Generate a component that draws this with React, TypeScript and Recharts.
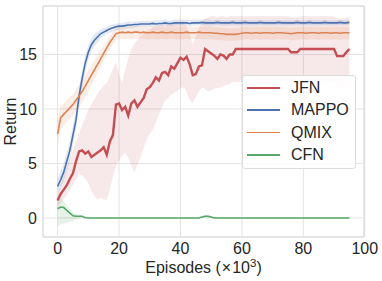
import {
  ComposedChart,
  Line,
  Area,
  XAxis,
  YAxis,
  CartesianGrid,
  ReferenceArea,
  Legend,
  Label,
} from 'recharts';

// episodes in thousands
const episodes = [
  0, 1, 2, 3, 4, 5, 6, 7, 8, 9, 10, 11, 12, 13, 14, 15, 16, 17, 18, 19,
  20, 21, 22, 23, 24, 25, 26, 27, 28, 29, 30, 31, 32, 33, 34, 35, 36, 37, 38, 39,
  40, 41, 42, 43, 44, 45, 46, 47, 48, 49, 50, 51, 52, 53, 54, 55, 56, 57, 58, 59,
  60, 61, 62, 63, 64, 65, 66, 67, 68, 69, 70, 71, 72, 73, 74, 75, 76, 77, 78, 79,
  80, 81, 82, 83, 84, 85, 86, 87, 88, 89, 90, 91, 92, 93, 94, 95,
];

const jfnMean = [
  1.6, 2.2, 2.6, 3.0, 3.6, 4.1, 5.2, 6.1, 6.2, 5.9,
  6.1, 5.6, 5.8, 6.0, 6.2, 6.5, 5.8, 7.0, 7.6, 10.4,
  10.5, 9.9, 10.2, 9.4, 10.5, 10.8, 10.2, 10.6, 11.0, 11.8,
  12.0, 12.4, 12.9, 12.6, 13.3, 13.4, 13.1, 13.9, 13.7, 14.2,
  14.7, 14.5, 14.8, 14.1, 13.1, 13.2, 13.9, 14.0, 15.5, 15.3,
  15.1, 14.9, 14.6, 15.0, 14.9, 14.6, 15.0, 15.0, 15.5, 15.5,
  15.5, 15.5, 15.5, 15.5, 15.5, 15.5, 15.5, 15.5, 15.5, 15.5,
  15.5, 15.5, 15.5, 15.5, 15.5, 15.5, 15.2, 15.2, 15.2, 15.5,
  15.5, 15.5, 15.5, 15.5, 15.5, 15.5, 15.5, 15.5, 15.5, 15.5,
  15.5, 14.85, 14.85, 14.85, 15.2, 15.5,
];
const jfnHigh = [
  2.2, 3.0, 3.8, 4.6, 5.4, 6.2, 7.0, 7.8, 8.5, 9.2,
  9.9, 10.4, 10.9, 11.4, 11.8, 12.1, 12.4, 13.0, 13.7, 14.3,
  13.2, 12.4, 13.6, 14.6, 15.5, 16.0, 16.3, 16.6, 16.9, 17.2,
  17.3, 17.5, 17.6, 17.7, 17.7, 17.8, 17.8, 17.9, 17.9, 18.0,
  18.0, 18.0, 17.6, 16.8, 15.9, 16.6, 17.4, 18.0, 18.3, 18.4,
  18.5, 18.5, 18.4, 18.5, 18.5, 18.4, 18.5, 18.5, 18.5, 18.5,
  18.5, 18.5, 18.5, 18.5, 18.5, 18.5, 18.5, 18.5, 18.5, 18.5,
  18.5, 18.5, 18.5, 18.5, 18.5, 18.5, 18.4, 18.4, 18.4, 18.5,
  18.5, 18.5, 18.5, 18.5, 18.5, 18.5, 18.5, 18.5, 18.5, 18.5,
  18.5, 18.3, 18.3, 18.3, 18.4, 18.5,
];
const jfnLow = [
  1.0, 1.4, 1.7, 2.1, 2.6, 3.0, 3.5, 4.0, 3.9, 3.6,
  3.2, 2.5, 2.0, 1.7, 1.9, 1.7, 1.65, 2.6, 3.8, 4.8,
  5.3, 5.7, 6.0, 5.5, 4.8, 4.2, 4.9, 5.6, 6.4, 7.2,
  7.7, 8.1, 8.8, 9.5, 10.2, 10.8, 11.0, 11.3, 11.5, 11.7,
  11.9, 12.0, 11.6, 10.8, 10.5, 11.1, 11.6, 12.0, 11.8, 11.6,
  11.7, 11.9, 11.9, 12.0, 12.1, 12.2, 12.3, 12.5, 12.5, 12.5,
  12.5, 12.5, 12.5, 12.5, 12.5, 12.5, 12.5, 12.5, 12.5, 12.5,
  12.5, 12.5, 12.5, 12.5, 12.5, 12.5, 12.3, 12.3, 12.3, 12.5,
  12.5, 12.5, 12.5, 12.5, 12.5, 12.5, 12.5, 12.5, 12.5, 12.5,
  12.5, 12.0, 12.0, 12.0, 12.3, 12.5,
];

const mappoMean = [
  2.9, 3.5, 4.2, 5.2, 6.2, 7.6, 9.0, 11.2, 12.8, 14.2,
  15.2, 15.9, 16.3, 16.6, 16.9, 17.05, 17.2, 17.35, 17.45, 17.55,
  17.6, 17.6, 17.65, 17.7, 17.7, 17.75, 17.75, 17.8, 17.8, 17.8,
  17.8, 17.85, 17.8, 17.85, 17.85, 17.9, 17.85, 17.85, 17.9, 17.9,
  17.9, 17.9, 17.9, 17.85, 17.9, 17.9, 17.9, 17.95, 17.9, 17.9,
  17.9, 17.9, 17.95, 17.9, 17.9, 17.9, 17.9, 17.95, 17.9, 17.9,
  17.9, 17.95, 17.9, 17.9, 17.9, 17.9, 17.95, 17.9, 17.9, 17.9,
  17.9, 17.9, 17.95, 17.9, 17.9, 17.9, 17.9, 17.9, 17.95, 17.9,
  17.9, 17.9, 17.95, 17.9, 17.9, 17.9, 17.9, 17.95, 17.9, 17.9,
  17.9, 17.9, 17.95, 17.9, 17.9, 17.95,
];
const mappoHigh = [
  3.6, 4.3, 5.0, 6.0, 7.1, 8.5, 9.9, 12.0, 13.6, 14.9,
  15.9, 16.5, 16.9, 17.1, 17.3, 17.45, 17.55, 17.7, 17.8, 17.85,
  17.9, 17.9, 17.95, 18.0, 18.0, 18.05, 18.05, 18.1, 18.1, 18.1,
  18.1, 18.15, 18.1, 18.15, 18.15, 18.2, 18.15, 18.15, 18.2, 18.2,
  18.2, 18.2, 18.2, 18.15, 18.2, 18.2, 18.2, 18.2, 18.2, 18.2,
  18.15, 18.15, 18.2, 18.15, 18.15, 18.15, 18.15, 18.2, 18.15, 18.15,
  18.15, 18.2, 18.15, 18.15, 18.15, 18.15, 18.2, 18.15, 18.15, 18.15,
  18.15, 18.15, 18.2, 18.15, 18.15, 18.15, 18.15, 18.15, 18.2, 18.15,
  18.15, 18.15, 18.2, 18.15, 18.15, 18.15, 18.15, 18.2, 18.15, 18.15,
  18.15, 18.15, 18.2, 18.15, 18.15, 18.2,
];
const mappoLow = [
  2.2, 2.7, 3.4, 4.3, 5.3, 6.7, 8.1, 10.3, 11.9, 13.4,
  14.5, 15.3, 15.7, 16.1, 16.5, 16.7, 16.9, 17.0, 17.1, 17.25,
  17.3, 17.3, 17.35, 17.4, 17.4, 17.45, 17.5, 17.5, 17.55, 17.55,
  17.55, 17.6, 17.55, 17.6, 17.6, 17.65, 17.6, 17.6, 17.65, 17.65,
  17.65, 17.65, 17.65, 17.6, 17.65, 17.65, 17.65, 17.7, 17.65, 17.65,
  17.65, 17.65, 17.7, 17.65, 17.65, 17.65, 17.65, 17.7, 17.65, 17.65,
  17.65, 17.7, 17.65, 17.65, 17.65, 17.65, 17.7, 17.65, 17.65, 17.65,
  17.65, 17.65, 17.7, 17.65, 17.65, 17.65, 17.65, 17.65, 17.7, 17.65,
  17.65, 17.65, 17.7, 17.65, 17.65, 17.65, 17.65, 17.7, 17.65, 17.65,
  17.65, 17.65, 17.7, 17.65, 17.65, 17.7,
];

const qmixMean = [
  7.7, 9.2, 9.5, 9.8, 10.1, 10.4, 10.8, 11.2, 11.6, 12.1,
  12.6, 13.1, 13.6, 14.1, 14.6, 15.1, 15.6, 16.1, 16.5, 16.9,
  17.0, 17.05, 17.0, 17.05, 17.0, 17.05, 17.05, 17.0, 17.05, 17.0,
  17.0, 17.05, 17.0, 17.0, 17.05, 17.0, 17.0, 17.05, 17.0, 17.0,
  17.0, 17.0, 17.05, 17.0, 17.0, 17.0, 17.05, 17.0, 17.0, 17.0,
  17.0, 16.95, 16.95, 16.9, 16.9, 16.85, 16.85, 16.85, 16.85, 16.9,
  16.95, 17.0, 17.0, 16.95, 17.0, 17.0, 16.95, 17.0, 17.0, 17.0,
  16.95, 17.0, 17.0, 17.0, 16.95, 16.95, 16.9, 16.95, 17.0, 17.0,
  17.0, 16.95, 17.0, 17.0, 17.0, 16.95, 17.0, 17.0, 17.0, 16.95,
  17.0, 17.0, 16.95, 17.0, 17.0, 17.0,
];
const qmixHigh = [
  9.0, 10.3, 10.5, 10.8, 11.1, 11.4, 11.8, 12.2, 12.6, 13.1,
  13.6, 14.0, 14.5, 14.9, 15.4, 15.8, 16.2, 16.7, 17.1, 17.5,
  17.6, 17.6, 17.55, 17.6, 17.55, 17.6, 17.6, 17.55, 17.6, 17.55,
  17.55, 17.6, 17.55, 17.55, 17.6, 17.55, 17.55, 17.6, 17.55, 17.55,
  17.55, 17.55, 17.6, 17.55, 17.55, 17.55, 17.6, 17.55, 17.55, 17.55,
  17.55, 17.5, 17.5, 17.45, 17.45, 17.4, 17.4, 17.4, 17.4, 17.45,
  17.5, 17.55, 17.55, 17.5, 17.55, 17.55, 17.5, 17.55, 17.55, 17.55,
  17.5, 17.55, 17.55, 17.55, 17.5, 17.5, 17.45, 17.5, 17.55, 17.55,
  17.55, 17.5, 17.55, 17.55, 17.55, 17.5, 17.55, 17.55, 17.55, 17.5,
  17.55, 17.55, 17.5, 17.55, 17.55, 17.55,
];
const qmixLow = [
  6.6, 8.1, 8.5, 8.8, 9.1, 9.4, 9.8, 10.2, 10.6, 11.1,
  11.6, 12.2, 12.7, 13.3, 13.8, 14.4, 15.0, 15.5, 15.9, 16.3,
  16.4, 16.45, 16.4, 16.45, 16.4, 16.45, 16.45, 16.4, 16.45, 16.4,
  16.4, 16.45, 16.4, 16.4, 16.45, 16.4, 16.4, 16.45, 16.4, 16.4,
  16.4, 16.4, 16.45, 16.4, 16.4, 16.4, 16.45, 16.4, 16.4, 16.4,
  16.4, 16.35, 16.35, 16.3, 16.3, 16.25, 16.25, 16.25, 16.25, 16.3,
  16.35, 16.4, 16.4, 16.35, 16.4, 16.4, 16.35, 16.4, 16.4, 16.4,
  16.35, 16.4, 16.4, 16.4, 16.35, 16.35, 16.3, 16.35, 16.4, 16.4,
  16.4, 16.35, 16.4, 16.4, 16.4, 16.35, 16.4, 16.4, 16.4, 16.35,
  16.4, 16.4, 16.35, 16.4, 16.4, 16.4,
];

const cfnMean = [
  0.85, 1.0, 0.95, 0.7, 0.45, 0.2, 0.15, 0.15, 0.15, 0.02,
  0, 0, 0, 0, 0, 0, 0, 0, 0, 0,
  0, 0, 0, 0, 0, 0, 0, 0, 0, 0,
  0, 0, 0, 0, 0, 0, 0, 0, 0, 0,
  0, 0, 0, 0, 0, 0, 0, 0.08, 0.15, 0.15,
  0.08, 0, 0, 0, 0, 0, 0, 0, 0, 0,
  0, 0, 0, 0, 0, 0, 0, 0, 0, 0,
  0, 0, 0, 0, 0, 0, 0, 0, 0, 0,
  0, 0, 0, 0, 0, 0, 0, 0, 0, 0,
  0, 0, 0, 0, 0, 0,
];
const cfnHigh = [
  1.9, 1.8, 1.5, 1.1, 0.8, 0.5, 0.35, 0.3, 0.25, 0.05,
  0, 0, 0, 0, 0, 0, 0, 0, 0, 0,
  0, 0, 0, 0, 0, 0, 0, 0, 0, 0,
  0, 0, 0, 0, 0, 0, 0, 0, 0, 0,
  0, 0, 0, 0, 0, 0, 0, 0.15, 0.3, 0.3,
  0.15, 0, 0, 0, 0, 0, 0, 0, 0, 0,
  0, 0, 0, 0, 0, 0, 0, 0, 0, 0,
  0, 0, 0, 0, 0, 0, 0, 0, 0, 0,
  0, 0, 0, 0, 0, 0, 0, 0, 0, 0,
  0, 0, 0, 0, 0, 0,
];
const cfnLow = [
  -0.8, -0.6, -0.5, -0.45, -0.35, -0.25, -0.15, -0.05, 0.05, 0,
  0, 0, 0, 0, 0, 0, 0, 0, 0, 0,
  0, 0, 0, 0, 0, 0, 0, 0, 0, 0,
  0, 0, 0, 0, 0, 0, 0, 0, 0, 0,
  0, 0, 0, 0, 0, 0, 0, 0, 0, 0,
  0, 0, 0, 0, 0, 0, 0, 0, 0, 0,
  0, 0, 0, 0, 0, 0, 0, 0, 0, 0,
  0, 0, 0, 0, 0, 0, 0, 0, 0, 0,
  0, 0, 0, 0, 0, 0, 0, 0, 0, 0,
  0, 0, 0, 0, 0, 0,
];

const xTicks = [0, 20, 40, 60, 80, 100];
const yTicks = [0, 5, 10, 15];
const seriesNames = ['JFN', 'MAPPO', 'QMIX', 'CFN'];

const rows = episodes.map((x, i) => ({
  x,
  jfn: jfnMean[i],
  jfnBand: [jfnLow[i], jfnHigh[i]],
  mappo: mappoMean[i],
  mappoBand: [mappoLow[i], mappoHigh[i]],
  qmix: qmixMean[i],
  qmixBand: [qmixLow[i], qmixHigh[i]],
  cfn: cfnMean[i],
  cfnBand: [cfnLow[i], cfnHigh[i]],
}));

const COLORS: Record<string, string> = {
  JFN: '#C44E52',
  MAPPO: '#4C72B0',
  QMIX: '#DD8452',
  CFN: '#55A868',
};
const TEXT = '#262626';
const FONT = '"Liberation Sans", Arial, sans-serif';

const XLabel = ({ viewBox }: any) => (
  <text x={viewBox.x + viewBox.width / 2} y={viewBox.y + 36.3} textAnchor="middle" fontSize={16} fill={TEXT} fontFamily={FONT}>
    Episodes (
    <tspan dx={1}>×</tspan>
    <tspan dx={1}>10</tspan>
    <tspan dy={-6.5} fontSize={11.5}>3</tspan>
    <tspan dy={6.5}>)</tspan>
  </text>
);

const YLabel = ({ viewBox }: any) => {
  const cx = 15.5;
  const cy = viewBox.y + viewBox.height / 2;
  return (
    <text x={cx} y={cy} transform={`rotate(-90, ${cx}, ${cy})`} textAnchor="middle" fontSize={16} fill={TEXT} fontFamily={FONT}>
      Return
    </text>
  );
};

const LegendBox = () => (
  <div
    style={{
      position: 'relative',
      width: 114,
      height: 94,
      boxSizing: 'border-box',
      border: '1px solid #dcdcdc',
      borderRadius: 3,
      background: 'rgba(255,255,255,0.85)',
      fontFamily: FONT,
      fontSize: 16,
      color: TEXT,
    }}
  >
    {seriesNames.map((name, i) => (
      <div key={name} style={{ position: 'absolute', left: 4, top: 11.7 + i * 22.4 - 11, height: 22, display: 'flex', alignItems: 'center' }}>
        <div style={{ width: 33, height: name === 'JFN' ? 2 : 1.6, background: COLORS[name] }} />
        <span style={{ marginLeft: 11, lineHeight: '22px' }}>{name}</span>
      </div>
    ))}
  </div>
);

export default function App() {
  return (
    <div style={{ position: 'absolute', left: 0, top: 0, background: '#fff' }}>
      <ComposedChart width={382} height={281} data={rows} margin={{ top: 6, right: 18, bottom: 0, left: 0 }} style={{ fontFamily: FONT }}>
        <CartesianGrid stroke="#e4e4e4" strokeWidth={1} />
        <XAxis
          dataKey="x"
          type="number"
          domain={[-4.75, 99.75]}
          allowDataOverflow
          ticks={xTicks}
          interval={0}
          tickLine={false}
          axisLine={false}
          tickSize={0}
          tickMargin={6}
          height={44}
          tick={{ fill: TEXT, fontSize: 16 }}
        >
          <Label content={XLabel} />
        </XAxis>
        <YAxis
          type="number"
          domain={[-1.75, 19.45]}
          allowDataOverflow
          ticks={yTicks}
          interval={0}
          tickLine={false}
          axisLine={false}
          tickSize={0}
          tickMargin={6}
          width={43}
          tick={{ fill: TEXT, fontSize: 16 }}
        >
          <Label content={YLabel} />
        </YAxis>
        <ReferenceArea x1={-4.75} x2={99.75} y1={-1.75} y2={19.45} fill="none" stroke="#dadada" strokeWidth={1} />

        <Area dataKey="jfnBand" type="linear" stroke="none" fill={COLORS.JFN} fillOpacity={0.13} legendType="none" isAnimationActive={false} />
        <Area dataKey="mappoBand" type="linear" stroke="none" fill={COLORS.MAPPO} fillOpacity={0.15} legendType="none" isAnimationActive={false} />
        <Area dataKey="qmixBand" type="linear" stroke="none" fill={COLORS.QMIX} fillOpacity={0.15} legendType="none" isAnimationActive={false} />
        <Area dataKey="cfnBand" type="linear" stroke="none" fill={COLORS.CFN} fillOpacity={0.15} legendType="none" isAnimationActive={false} />

        <Line dataKey="jfn" name="JFN" type="linear" stroke={COLORS.JFN} strokeWidth={2.4} dot={false} activeDot={false} isAnimationActive={false} />
        <Line dataKey="mappo" name="MAPPO" type="linear" stroke={COLORS.MAPPO} strokeWidth={1.6} dot={false} activeDot={false} isAnimationActive={false} />
        <Line dataKey="qmix" name="QMIX" type="linear" stroke={COLORS.QMIX} strokeWidth={1.6} dot={false} activeDot={false} isAnimationActive={false} />
        <Line dataKey="cfn" name="CFN" type="linear" stroke={COLORS.CFN} strokeWidth={1.6} dot={false} activeDot={false} isAnimationActive={false} />

        <Legend
          layout="vertical"
          align="center"
          verticalAlign="middle"
          wrapperStyle={{ left: 242, top: 75, width: 114, height: 94 }}
          content={LegendBox}
        />
      </ComposedChart>
    </div>
  );
}
